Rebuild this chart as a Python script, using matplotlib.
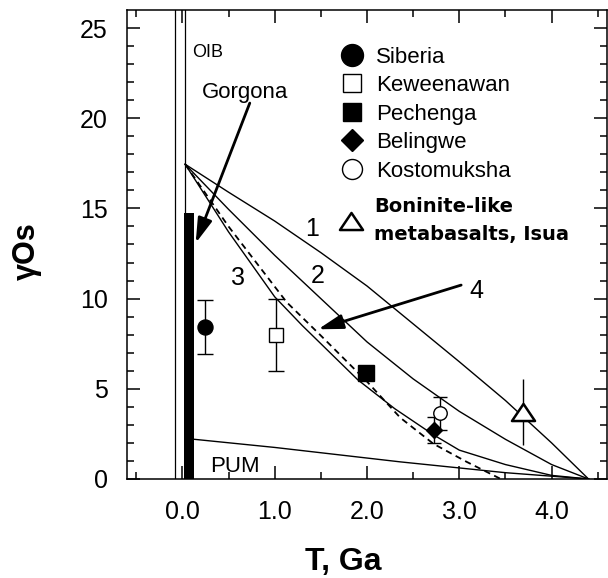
import numpy as np
import matplotlib.pyplot as plt
from matplotlib.lines import Line2D
from matplotlib.path import Path

plt.rcParams['font.family'] = ['Liberation Sans', 'DejaVu Sans']

# model evolution curves 1-4 (T in Ga, gamma Os)
curve1_t = [0.03, 0.5, 1.0, 1.5, 2.0, 2.5, 3.0, 3.5, 4.0, 4.4]
curve1_g = [17.45, 15.9, 14.3, 12.55, 10.7, 8.6, 6.5, 4.35, 2.0, 0.0]

curve2_t = [0.03, 0.5, 1.0, 1.5, 2.0, 2.5, 3.0, 3.5, 4.0, 4.4]
curve2_g = [17.45, 14.95, 12.4, 10.0, 7.6, 5.55, 3.75, 2.2, 0.8, 0.0]

curve3_t = [0.03, 0.5, 1.0, 1.3, 1.9, 2.3, 2.72, 3.0, 3.5, 4.0, 4.4]
curve3_g = [17.45, 13.7, 10.1, 8.5, 5.5, 3.9, 2.45, 1.6, 0.8, 0.2, 0.0]

curve4_t = [0.03, 0.5, 1.13, 1.49, 2.0, 2.36, 2.72, 3.08, 3.45]
curve4_g = [17.45, 14.0, 9.8, 8.0, 5.4, 3.4, 1.95, 0.95, 0.0]

# primitive upper mantle
pum_t = [0.13, 1.0, 2.36, 3.5, 4.4]
pum_g = [2.2, 1.75, 0.95, 0.35, 0.0]

# OIB band edges and Gorgona range
oib_t = [-0.076, 0.033]
gorgona_t = [0.014, 0.122]
gorgona_g = [0.0, 14.75]

# samples: T, gamma Os, error
sib = (0.25, 8.44, 1.5)
kew = (1.01, 7.98, 2.0)
pech = (1.99, 5.89)
bel = (2.73, 2.72, 0.7)
kos = (2.79, 3.64, 0.9)
isua = (3.69, 3.71, 1.85)

fig = plt.figure(figsize=(6.08, 5.78), dpi=100)
ax = fig.add_axes([127/608, 1 - 479/578, 480/608, 469/578])

for t in oib_t:
    ax.axvline(t, color='k', lw=0.9)
ax.fill_between(gorgona_t, gorgona_g[0], gorgona_g[1], color='k', lw=0)

ax.plot(curve1_t, curve1_g, color='k', lw=1.0)
ax.plot(curve2_t, curve2_g, color='k', lw=1.0)
ax.plot(curve3_t, curve3_g, color='k', lw=1.0)
ax.plot(curve4_t, curve4_g, color='k', lw=1.3, ls=(0, (3.5, 2.5)))
ax.plot(pum_t, pum_g, color='k', lw=1.0)

ebk = dict(ecolor='k', elinewidth=1.0, capthick=1.0, zorder=5)
ax.errorbar(sib[0], sib[1], yerr=sib[2], fmt='o', ms=10.8, mfc='k', mec='k',
            capsize=5.8, **ebk)
ax.errorbar(kew[0], kew[1], yerr=kew[2], fmt='s', ms=10.5, mfc='white', mec='k',
            mew=1.0, capsize=5.8, **ebk)
ax.plot(pech[0], pech[1], 's', ms=11.5, color='k', zorder=5)
ax.errorbar(kos[0], kos[1], yerr=kos[2], fmt='o', ms=9.7, mfc='white', mec='k',
            mew=1.0, capsize=4.7, **ebk)
ax.errorbar(bel[0], bel[1], yerr=bel[2], fmt='D', ms=8.1, mfc='k', mec='k',
            capsize=4.7, **ebk)
tri = Path([(-1, -0.74), (1, -0.74), (0, 0.74), (-1, -0.74)],
           [Path.MOVETO, Path.LINETO, Path.LINETO, Path.CLOSEPOLY])
ax.errorbar(isua[0], isua[1], yerr=isua[2], fmt='none', **ebk)
ax.plot(isua[0], isua[1], marker=tri, ms=16.6, mfc='white', mec='k', mew=1.8,
        ls='none', zorder=6)

# arrows
arrow = dict(arrowstyle='-|>,head_length=0.75,head_width=0.22', color='k',
             lw=2.0, mutation_scale=20, shrinkA=0, shrinkB=0)
ax.annotate('', xy=(0.144, 13.08), xytext=(0.73, 20.84), arrowprops=arrow)
ax.annotate('', xy=(1.47, 8.3), xytext=(3.02, 10.75), arrowprops=arrow)

# labels
ax.text(0.11, 23.37, 'OIB', fontsize=13, ha='left', va='baseline')
ax.text(0.21, 21.1, 'Gorgona', fontsize=16, ha='left', va='baseline')
ax.text(0.3, 0.4, 'PUM', fontsize=16, ha='left', va='baseline')
ax.text(1.41, 13.47, '1', fontsize=18, ha='center', va='baseline')
ax.text(1.47, 10.88, '2', fontsize=18, ha='center', va='baseline')
ax.text(0.6, 10.75, '3', fontsize=18, ha='center', va='baseline')
ax.text(3.18, 10.02, '4', fontsize=18, ha='center', va='baseline')

# legend
handles = [
    Line2D([], [], ls='none', marker='o', ms=15.8, mfc='k', mec='k'),
    Line2D([], [], ls='none', marker='s', ms=12.5, mfc='white', mec='k', mew=1.0),
    Line2D([], [], ls='none', marker='s', ms=13, mfc='k', mec='k'),
    Line2D([], [], ls='none', marker='D', ms=11.7, mfc='k', mec='k'),
    Line2D([], [], ls='none', marker='o', ms=14.4, mfc='white', mec='k', mew=1.0),
]
labels = ['Siberia', 'Keweenawan', 'Pechenga', 'Belingwe', 'Kostomuksha']
leg = ax.legend(handles, labels, loc='upper left', bbox_to_anchor=(340.9/608, 1 - 46.6/578),
                bbox_transform=fig.transFigure, frameon=False, fontsize=16,
                borderpad=0, handlelength=1.0, handletextpad=0.58, labelspacing=0.34,
                borderaxespad=0)
ax.add_artist(leg)
h_isua = Line2D([], [], ls='none', marker=tri, ms=16.6, mfc='white', mec='k', mew=1.8)
leg2 = ax.legend([h_isua], ['Boninite-like\nmetabasalts, Isua'], loc='upper left',
                 bbox_to_anchor=(340.9/608, 1 - 197/578), bbox_transform=fig.transFigure,
                 frameon=False, prop=dict(family='DejaVu Sans', weight='bold', size=14),
                 borderpad=0, handlelength=1.0, handletextpad=0.72, borderaxespad=0)
leg2.get_texts()[0].set_linespacing(1.57)

ax.set_xlim(-0.6, 4.6)
ax.set_ylim(0, 26)
ax.set_xticks([0, 1, 2, 3, 4])
ax.set_xticklabels(['0.0', '1.0', '2.0', '3.0', '4.0'])
ax.set_xticks(np.arange(-0.5, 4.6, 0.5), minor=True)
ax.set_yticks([0, 5, 10, 15, 20, 25])
ax.set_yticks(np.arange(0, 26, 1), minor=True)
ax.tick_params(which='both', direction='in', top=True, right=True, width=1.1,
               labelsize=18)
ax.tick_params(which='major', length=9.5)
ax.tick_params(which='minor', length=5)
ax.tick_params(axis='x', pad=15)
ax.tick_params(axis='y', pad=14)
for s in ax.spines.values():
    s.set_linewidth(1.1)

ax.set_xlabel('T, Ga', fontsize=23, fontweight='bold')
ax.xaxis.set_label_coords(0.45, -0.145)
ax.set_ylabel('γOs', fontsize=22, fontweight='bold')
ax.yaxis.set_label_coords(-0.177, 0.486)

fig.savefig('out.png', dpi=100)
